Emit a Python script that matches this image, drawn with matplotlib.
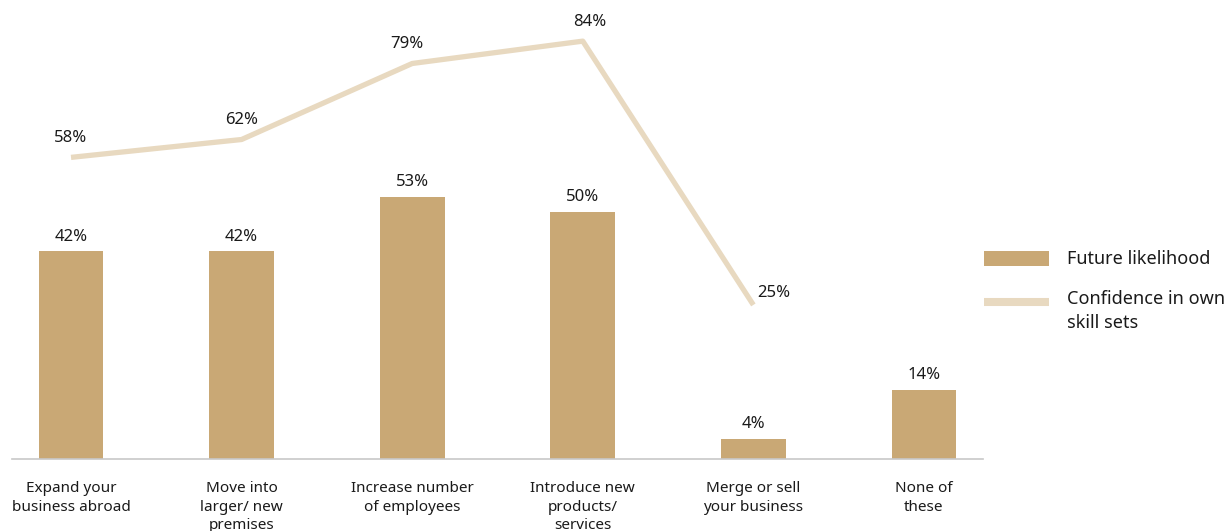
import numpy as np
import matplotlib.pyplot as plt
from matplotlib.patches import Patch
from matplotlib.lines import Line2D
from matplotlib.legend_handler import HandlerLine2D

# data
categories = ["Expand your\nbusiness abroad", "Move into\nlarger/ new\npremises",
              "Increase number\nof employees", "Introduce new\nproducts/\nservices",
              "Merge or sell\nyour business", "None of\nthese"]
future_likelihood = [42, 42, 53, 50, 4, 14]
confidence = [58, 62, 79, 84, 25]

BAR_COL = "#C9A875"
LINE_COL = "#E8D9C0"
TXT_COL = "#1a1a1a"

plt.rcParams["font.family"] = ["Noto Sans", "DejaVu Sans"]
plt.rcParams["font.size"] = 11


class HandlerTopLine(HandlerLine2D):
    # line key sits level with the first line of a two-line label
    def __init__(self, shift=6.5, **kw):
        super().__init__(**kw)
        self.shift = shift

    def create_artists(self, legend, orig_handle, xdescent, ydescent,
                       width, height, fontsize, trans):
        arts = super().create_artists(legend, orig_handle, xdescent, ydescent,
                                      width, height, fontsize, trans)
        for a in arts:
            a.set_ydata(np.asarray(a.get_ydata()) + self.shift)
        return arts


fig = plt.figure(figsize=(12.28, 5.31), dpi=100)
ax = fig.add_axes([0.00977, 0.1356, 0.7907, 0.8644])
ax2 = ax.twinx()

x = np.arange(len(categories))
bars = ax.bar(x, future_likelihood, width=0.38, color=BAR_COL, zorder=2)
ax.set_xlim(-0.346, len(categories) - 1 + 0.346)
ax.set_ylim(0, 92.9)

for xi, v in zip(x, future_likelihood):
    ax.annotate(f"{v}%", (xi, v), xytext=(0, 5), textcoords="offset points",
                ha="center", va="bottom", color=TXT_COL, fontsize=12)

# confidence line sits on its own scale
xl = x[:len(confidence)]
ax2.plot(xl, confidence, color=LINE_COL, lw=3.8, solid_capstyle="butt", zorder=3)
ax2.set_ylim(-9.46, 93.2)
offsets = [(0, 8), (0, 8), (-4, 8), (5, 8), (15, 3)]
for xi, v, off in zip(xl, confidence, offsets):
    ax2.annotate(f"{v}%", (xi, v), xytext=off, textcoords="offset points",
                 ha="center", va="bottom", color=TXT_COL, fontsize=12)

for a in (ax, ax2):
    for s in ("top", "right", "left"):
        a.spines[s].set_visible(False)
    a.set_yticks([])
ax2.spines["bottom"].set_visible(False)
ax.spines["bottom"].set_color("#C8C8C8")
ax.spines["bottom"].set_linewidth(1.2)

ax.set_xticks(x)
ax.set_xticklabels(categories, color=TXT_COL, linespacing=1.3)
ax.tick_params(axis="x", length=0, pad=16)

line_key = Line2D([0], [0], color=LINE_COL, lw=5.8, solid_capstyle="butt")
handles = [Patch(facecolor=BAR_COL, edgecolor="none"), line_key]
leg = fig.legend(handles, ["Future likelihood", "Confidence in own\nskill sets"],
                 loc="upper left", bbox_to_anchor=(0.788, 0.559), frameon=False,
                 fontsize=13, handlelength=3.6, handleheight=0.9, handletextpad=1.0,
                 labelspacing=1.22, labelcolor=TXT_COL,
                 handler_map={line_key: HandlerTopLine(shift=6.5)})
for t in leg.get_texts():
    t.set_linespacing(1.38)

fig.savefig("out.png", dpi=100)
